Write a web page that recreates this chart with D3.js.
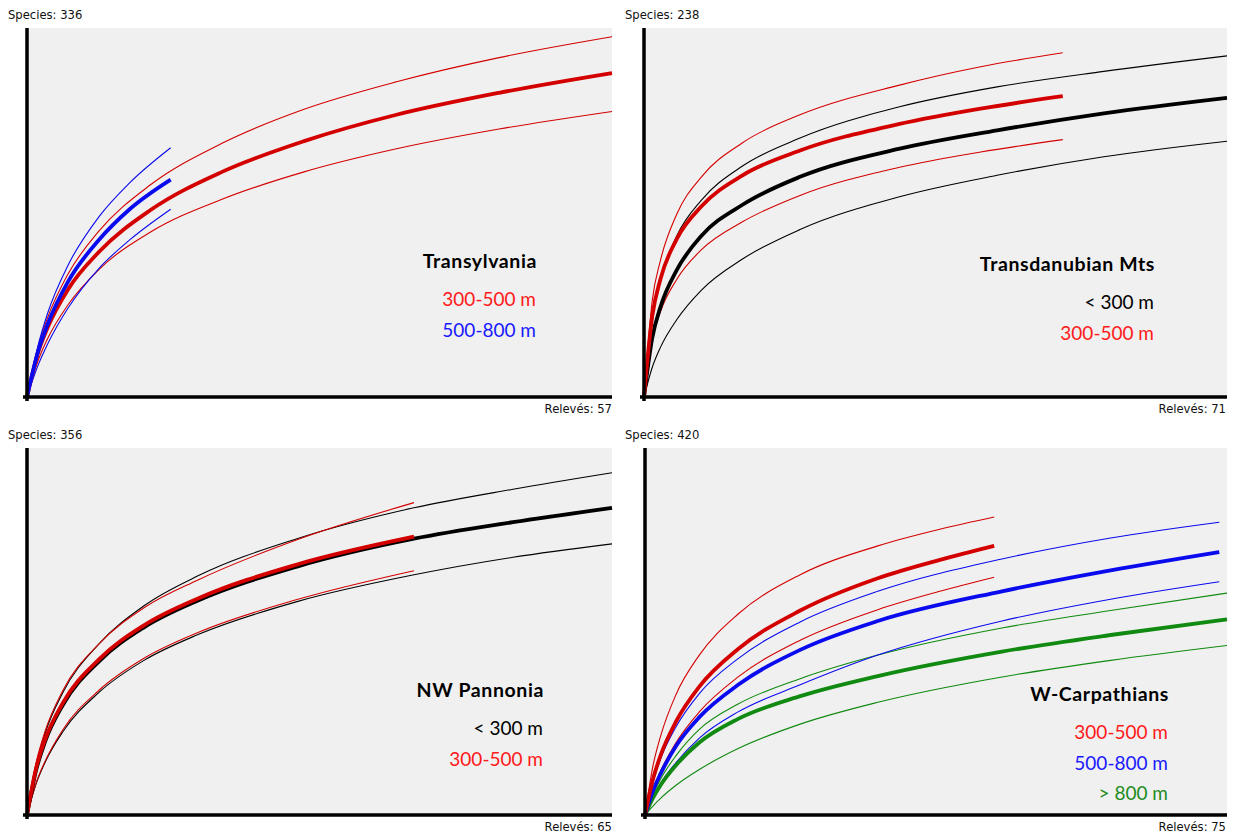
<!DOCTYPE html>
<html>
<head>
<meta charset="utf-8">
<script src="https://cdn.jsdelivr.net/npm/d3@7.9.0/dist/d3.min.js"></script>
<style>
  body { margin: 0; background: #fff; }
  svg { display: block; }
  .small { font-family: "DejaVu Sans", sans-serif; font-size: 11.6px; fill: #111; }
  .title { font-family: Lato, "Open Sans", sans-serif; font-size: 19.5px; font-weight: bold; fill: #000; letter-spacing: 0.6px; }
  .item { font-family: Lato, "Open Sans", sans-serif; font-size: 19px; }
</style>
</head>
<body>
<svg id="chart" width="1240" height="834"></svg>
<script>
// ---- Transylvania ----
const trRedN = [0, 1, 2, 4, 7, 12, 19, 27, 36, 46, 57];
const trRedMean = [0, 38, 63, 98, 132, 170, 205, 233, 257, 277, 295];
const trRedHi = [0, 43, 72, 112, 151, 193, 231, 262, 287, 309, 328];
const trRedLo = [0, 31, 53, 84, 116, 150, 180, 205, 226, 244, 260];
const trBlueN = [0, 1, 2, 4, 7, 10, 14];
const trBlueMean = [0, 39, 66, 105, 143, 171, 198];
const trBlueHi = [0, 44, 76, 120, 164, 195, 227];
const trBlueLo = [0, 27, 48, 81, 117, 143, 171];

// ---- Transdanubian Mts ----
const tdBlackN = [0, 1, 2, 4, 7, 12, 19, 31, 43, 56, 71];
const tdBlackMean = [0, 38, 58, 82, 104, 124, 142, 160, 172, 183, 193];
const tdBlackHi = [0, 50, 76, 104, 127, 149, 167, 187, 200, 210, 220];
const tdBlackLo = [0, 19, 32, 50, 69, 89, 108, 129, 143, 155, 165];
const tdRedN = [0, 1, 2, 4, 7, 12, 19, 31, 41, 51];
const tdRedMean = [0, 52, 76, 102, 123, 143, 159, 176, 186, 194];
const tdRedHi = [0, 62, 88, 118, 142, 164, 182, 201, 213, 222];
const tdRedLo = [0, 37, 55, 76, 95, 113, 130, 148, 158, 166];

// ---- NW Pannonia ----
const pnBlackN = [0, 1, 2, 4, 8, 13, 19, 30, 43, 54, 65];
const pnBlackMean = [0, 43, 71, 107, 149, 182, 208, 241, 268, 284, 298];
const pnBlackHi = [0, 48, 79, 119, 166, 203, 232, 268, 298, 316, 332];
const pnBlackLo = [0, 30, 51, 81, 119, 150, 175, 207, 233, 250, 263];
const pnRedN = [0, 1, 2, 4, 8, 13, 19, 30, 43];
const pnRedMean = [0, 45, 73, 109, 151, 184, 210, 243, 270];
const pnRedHi = [0, 50, 81, 121, 166, 201, 228, 267, 303];
const pnRedLo = [0, 31, 52, 83, 121, 152, 177, 209, 237];

// ---- W-Carpathians ----
const wcRedN = [0, 1, 2, 4, 7, 12, 20, 30, 38, 45];
const wcRedMean = [0, 40, 68, 107, 147, 190, 234, 271, 292, 308];
const wcRedHi = [0, 55, 90, 138, 183, 230, 275, 308, 327, 341];
const wcRedLo = [0, 28, 50, 83, 118, 158, 200, 235, 256, 272];
const wcBlueN = [0, 1, 2, 4, 7, 12, 20, 30, 46, 60, 74];
const wcBlueMean = [0, 27, 47, 79, 112, 149, 189, 222, 256, 280, 301];
const wcBlueHi = [0, 37, 64, 101, 139, 179, 221, 256, 293, 317, 335];
const wcBlueLo = [0, 20, 36, 60, 88, 118, 149, 183, 222, 247, 267];
const wcGreenN = [0, 1, 2, 4, 7, 12, 20, 30, 46, 60, 75];
const wcGreenMean = [0, 19, 34, 57, 83, 110, 136, 159, 187, 206, 224];
const wcGreenHi = [0, 23, 41, 68, 98, 127, 156, 183, 214, 234, 254];
const wcGreenLo = [0, 10, 19, 34, 52, 76, 104, 129, 158, 177, 194];

const regions = ["Transylvania", "Transdanubian Mts", "NW Pannonia", "W-Carpathians"];
const maxSpecies = [336, 238, 356, 420];
const maxReleves = [57, 71, 65, 75];

const col = {
  red: { line: "#d40000", text: "#ff1a1a" },
  blue: { line: "#0a0aee", text: "#1a1aff" },
  black: { line: "#000000", text: "#000000" },
  green: { line: "#108a10", text: "#1e8c1e" }
};

const panels = [
  { box: [27, 612, 28, 397], lab: [8, 612],
    legend: { x: 537, y: 268, items: [["300-500 m", "red"], ["500-800 m", "blue"]] },
    series: [
      ["red", trRedN, trRedMean, trRedHi, trRedLo],
      ["blue", trBlueN, trBlueMean, trBlueHi, trBlueLo]
    ] },
  { box: [644, 1227, 28, 397], lab: [625, 1226],
    legend: { x: 1155, y: 271, items: [["< 300 m", "black"], ["300-500 m", "red"]] },
    series: [
      ["black", tdBlackN, tdBlackMean, tdBlackHi, tdBlackLo],
      ["red", tdRedN, tdRedMean, tdRedHi, tdRedLo]
    ] },
  { box: [27, 612, 448, 815], lab: [8, 612],
    legend: { x: 544, y: 697, items: [["< 300 m", "black"], ["300-500 m", "red"]] },
    series: [
      ["black", pnBlackN, pnBlackMean, pnBlackHi, pnBlackLo],
      ["red", pnRedN, pnRedMean, pnRedHi, pnRedLo]
    ] },
  { box: [645, 1227, 448, 815], lab: [625, 1226],
    legend: { x: 1169, y: 701, items: [["300-500 m", "red"], ["500-800 m", "blue"], ["> 800 m", "green"]] },
    series: [
      ["green", wcGreenN, wcGreenMean, wcGreenHi, wcGreenLo],
      ["blue", wcBlueN, wcBlueMean, wcBlueHi, wcBlueLo],
      ["red", wcRedN, wcRedMean, wcRedHi, wcRedLo]
    ] }
];

const svg = d3.select("#chart");

panels.forEach((p, i) => {
  const [x0, x1, y0, y1] = p.box;
  const g = svg.append("g");

  const x = d3.scaleLinear().domain([0, maxReleves[i]]).range([x0, x1]);
  const y = d3.scaleLinear().domain([0, maxSpecies[i]]).range([y1, y0]);

  g.append("rect")
    .attr("x", x0).attr("y", y0)
    .attr("width", x1 - x0).attr("height", y1 - y0)
    .attr("fill", "#f0f0f0");

  const line = d3.line()
    .x(d => x(d[0]))
    .y(d => y(d[1]))
    .curve(d3.curveMonotoneX);

  // thin confidence curves first, thick mean on top
  p.series.forEach(([c, n, mean, hi, lo]) => {
    [hi, lo].forEach(v => {
      g.append("path")
        .attr("d", line(n.map((k, j) => [k, v[j]])))
        .attr("fill", "none")
        .attr("stroke", col[c].line)
        .attr("stroke-width", 1.1);
    });
  });
  p.series.forEach(([c, n, mean]) => {
    g.append("path")
      .attr("d", line(n.map((k, j) => [k, mean[j]])))
      .attr("fill", "none")
      .attr("stroke", col[c].line)
      .attr("stroke-width", 3.8)
      .attr("stroke-linejoin", "round");
  });

  // axes: heavy black lines crossing at origin
  g.append("line")
    .attr("x1", x0).attr("x2", x0)
    .attr("y1", y0).attr("y2", y1 + 4)
    .attr("stroke", "#000").attr("stroke-width", 3.5);
  g.append("line")
    .attr("x1", x0 - 4).attr("x2", x1)
    .attr("y1", y1).attr("y2", y1)
    .attr("stroke", "#000").attr("stroke-width", 3.5);

  g.append("text").attr("class", "small")
    .attr("x", p.lab[0]).attr("y", y0 - 9)
    .text("Species: " + maxSpecies[i]);
  g.append("text").attr("class", "small")
    .attr("x", p.lab[1]).attr("y", y1 + 16)
    .attr("text-anchor", "end")
    .text("Relevés: " + maxReleves[i]);

  // legend
  g.append("text").attr("class", "title")
    .attr("x", p.legend.x).attr("y", p.legend.y)
    .attr("text-anchor", "end")
    .text(regions[i]);
  p.legend.items.forEach(([label, c], j) => {
    g.append("text").attr("class", "item")
      .attr("x", p.legend.x - 1).attr("y", p.legend.y + 38 + j * 30.5)
      .attr("text-anchor", "end")
      .attr("fill", col[c].text)
      .text(label);
  });
});
</script>
</body>
</html>
